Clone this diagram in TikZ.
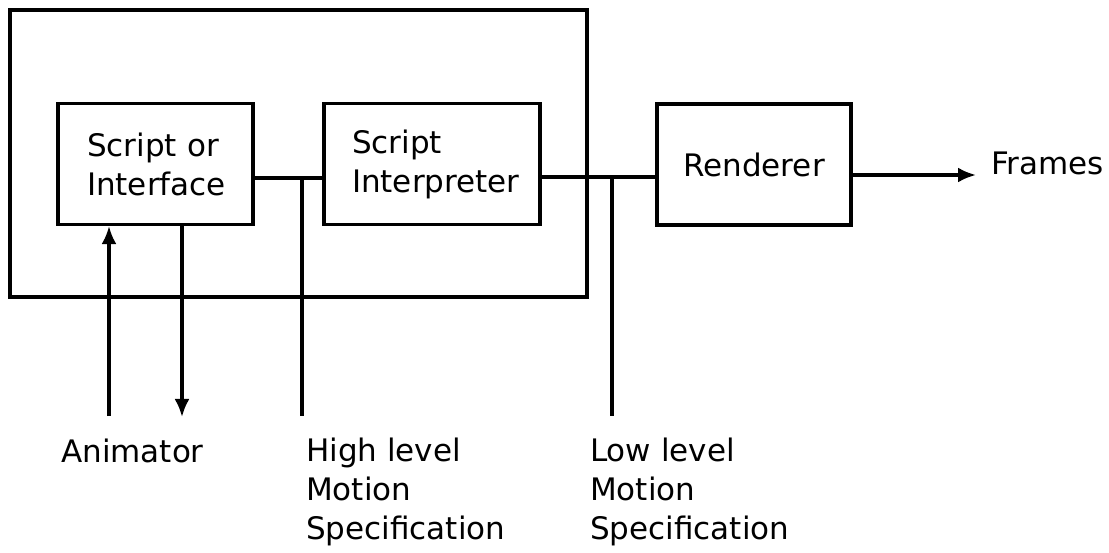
\documentclass[tikz,border=0pt]{standalone}
\usepackage{fontspec}
\setmainfont{DejaVu Sans}
\usetikzlibrary{arrows.meta}

\tikzset{
	wire/.style={line width=3.2pt},
	block/.style={draw, wire, minimum height=121pt, inner sep=0pt},
	arr/.style={wire, -{Latex[length=18pt,width=15pt]}},
	txt/.style={inner sep=0pt, align=left},
}

\begin{document}
\begin{tikzpicture}[x=1pt, y=-1pt, font=\fontsize{31}{39}\selectfont]
	\useasboundingbox (0,0) rectangle (1109,553);
	
	% the system and its parts
	\node[draw, wire, minimum width=577pt, minimum height=287pt, inner sep=0pt] (system) at (298.5,153.5) {};
	\node[block, minimum width=195pt, text width=137pt, align=left] (scriptif) at (155.5,164) {Script or\\Interface};
	\node[block, minimum width=216pt, text width=160pt, align=left] (interp) at (432,164) {Script\\Interpreter};
	\node[block, minimum width=194pt] (render) at (754,164.5) {Renderer};
	
	\node[txt, anchor=base west] (frames) at (991,175) {Frames};
	\node[txt, anchor=base west] (animator) at (61,462) {Animator};
	\node[txt, anchor=north west] (highspec) at (306,438) {High level\\Motion\\Specification};
	\node[txt, anchor=north west] (lowspec) at (590,438) {Low level\\Motion\\Specification};
	
	\coordinate (animin) at (109,416);
	\coordinate (animout) at (182,417);
	\coordinate (highjoin) at (302,178);
	\coordinate (highend) at (302,416);
	\coordinate (lowjoin) at (612,177);
	\coordinate (lowend) at (612,416);
	\coordinate (framesin) at (976,175);
	
	\draw[arr] (animin) -- (scriptif.south -| animin);
	\draw[arr] (scriptif.south -| animout) -- (animout);
	\draw[wire] (scriptif.east |- highjoin) -- (interp.west |- highjoin);
	\draw[wire] (highjoin) -- (highend);
	\draw[wire] (interp.east |- lowjoin) -- (render.west |- lowjoin);
	\draw[wire] (lowjoin) -- (lowend);
	\draw[arr] (render.east |- framesin) -- (framesin);
\end{tikzpicture}
\end{document}
